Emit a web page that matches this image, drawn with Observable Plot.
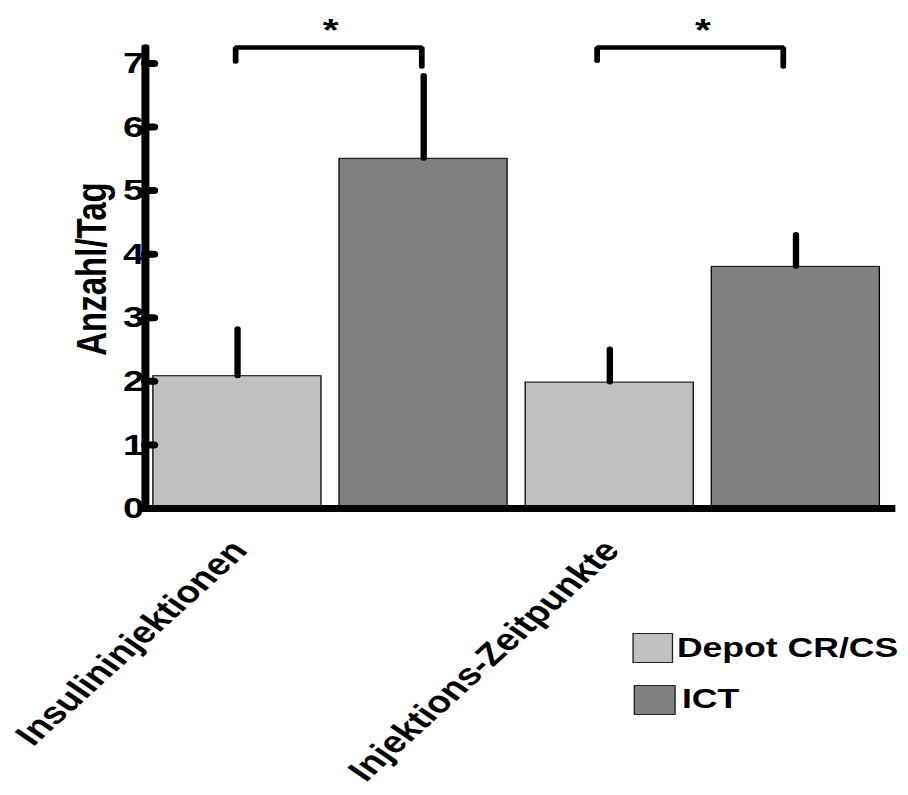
<!DOCTYPE html>
<html><head><meta charset="utf-8">
<script src="https://cdn.jsdelivr.net/npm/d3@7"></script>
<script src="https://cdn.jsdelivr.net/npm/@observablehq/plot@0.6"></script>
<style>
html,body{margin:0;padding:0;background:#fff;}
#wrap{position:relative;width:715px;height:795px;transform:scaleX(1.27);transform-origin:0 0;font-family:"Liberation Sans",Arial,sans-serif;font-weight:bold;}
#wrap svg{position:absolute;left:0;top:0;}
.sw{position:absolute;border:1.5px solid #222;box-sizing:border-box;}
.lt{position:absolute;font-size:28px;line-height:28px;white-space:nowrap;color:#000;}
</style></head><body>
<div id="wrap"></div>
<script>
const groups = ["Insulininjektionen", "Injektions-Zeitpunkte"];
const seriesNames = ["Depot CR/CS", "ICT"];
const seriesColors = ["#c0c0c0", "#808080"];
const depotMeans = [2.08, 1.98];
const depotUpper = [2.82, 2.5];
const ictMeans = [5.5, 3.8];
const ictUpper = [6.8, 4.3];
const yTicks = [0, 1, 2, 3, 4, 5, 6, 7];
const sigLabels = ["*", "*"];
const bracketTop = [7.25, 7.25];
const bracketLeftEnd = [7.03, 7.04];
const bracketRightEnd = [6.95, 6.95];
const yLabel = "Anzahl/Tag";

const bars = groups.flatMap((g, i) => [
  {group: g, gi: i, series: seriesNames[0], pos: i * 2, value: depotMeans[i], upper: depotUpper[i]},
  {group: g, gi: i, series: seriesNames[1], pos: i * 2 + 1, value: ictMeans[i], upper: ictUpper[i]}
]);
const brackets = groups.map((g, i) => ({group: g, gi: i, left: i * 2, right: i * 2 + 1, mid: i * 2 + 0.5,
  top: bracketTop[i], l: bracketLeftEnd[i], r: bracketRightEnd[i], label: sigLabels[i]}));
const bracketPts = brackets.flatMap(b => [
  {group: b.group, gi: b.gi, x: b.left, y: b.l},
  {group: b.group, gi: b.gi, x: b.left, y: b.top},
  {group: b.group, gi: b.gi, x: b.right, y: b.top},
  {group: b.group, gi: b.gi, x: b.right, y: b.r}
]);
const labels = groups.map((g, i) => ({group: g, pos: i * 2}));
const stubs = yTicks.filter(d => d > 0).map(d => ({value: d}));
const halfWidth = 0.4515;
const xDomain = [-0.495, 3.51];
const tickLen = 0.045;

const bracketStyle = {x: "x", y: "y", z: "group", stroke: "black", strokeWidth: 4.5,
  strokeLinecap: "round", strokeLinejoin: "miter"};

const chart = Plot.plot({
  width: 715,
  height: 795,
  marginTop: 47,
  marginBottom: 287,
  marginLeft: 114,
  marginRight: 14,
  style: {fontFamily: "'Liberation Sans', Arial, sans-serif", fontWeight: "bold", background: "transparent", overflow: "visible", color: "black"},
  x: {type: "linear", domain: xDomain, axis: null},
  y: {domain: [0, 7.25]},
  color: {domain: seriesNames, range: seriesColors},
  marks: [
    Plot.rectY(bars, {x1: d => d.pos - halfWidth, x2: d => d.pos + halfWidth, y1: 0, y2: "value",
      fill: "series", stroke: "black", strokeWidth: 1}),
    Plot.ruleX(bars, {x: "pos", y1: "value", y2: "upper", stroke: "black", strokeWidth: 5, strokeLinecap: "round"}),
    Plot.line(bracketPts, {...bracketStyle, filter: d => d.gi === 0, dx: -1.5}),
    Plot.line(bracketPts, {...bracketStyle, filter: d => d.gi === 1, dx: -10}),
    Plot.text(brackets, {x: "mid", y: "top", text: "label", fontSize: 32, fontWeight: "bold",
      lineAnchor: "bottom", dy: -7, fill: "black"}),
    Plot.axisY(yTicks, {tickSize: 0, tickPadding: 1, tickFormat: d => String(d), fontSize: 30, fontWeight: "bold", label: null, fill: "black"}),
    Plot.frame({anchor: "left", stroke: "black", strokeWidth: 6.3, strokeLinecap: "round"}),
    Plot.frame({anchor: "bottom", stroke: "black", strokeWidth: 7, strokeLinecap: "square"}),
    Plot.link(stubs, {x1: () => xDomain[0], x2: () => xDomain[0] + tickLen, y1: "value", y2: "value",
      stroke: "black", strokeWidth: 7, strokeLinecap: "round"}),
    Plot.text(labels, {x: "pos", y: 0, text: "group", rotate: -49, textAnchor: "end", lineAnchor: "bottom",
      dx: 9, dy: 43, fontSize: 30.5, fontWeight: "bold", fill: "black"}),
    Plot.text([yLabel], {frameAnchor: "left", text: d => d, rotate: -90, textAnchor: "middle", lineAnchor: "bottom",
      dx: -31, dy: -9, fontSize: 33, fontWeight: "bold", fill: "black"})
  ]
});

const wrap = document.getElementById("wrap");
wrap.appendChild(chart);

// legend
const legendItems = [
  {name: seriesNames[0], color: seriesColors[0], sx: 497.6, sy: 633, sw: 32.3, tx: 533, ty: 633.5},
  {name: seriesNames[1], color: seriesColors[1], sx: 499, sy: 685, sw: 33, tx: 537, ty: 685.3}
];
for (const it of legendItems) {
  const s = document.createElement("div");
  s.className = "sw";
  s.style.left = it.sx + "px"; s.style.top = it.sy + "px";
  s.style.width = it.sw + "px"; s.style.height = "30px";
  s.style.background = it.color;
  wrap.appendChild(s);
  const t = document.createElement("div");
  t.className = "lt";
  t.style.left = it.tx + "px"; t.style.top = it.ty + "px";
  t.textContent = it.name;
  wrap.appendChild(t);
}
</script>
</body></html>
